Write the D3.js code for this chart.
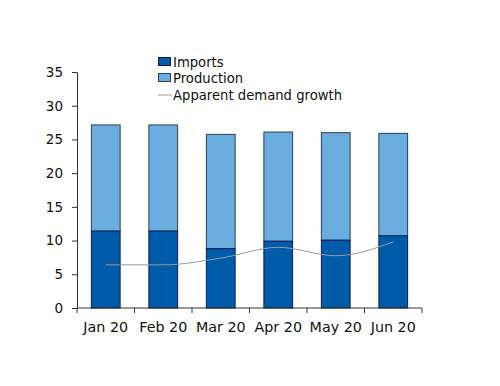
<!DOCTYPE html>
<html><head><meta charset="utf-8">
<script src="https://cdn.jsdelivr.net/npm/d3@7"></script>
<style>body{margin:0;background:#fff}svg{display:block}text{font-family:"DejaVu Sans",Verdana,sans-serif;fill:#111}</style>
</head><body><svg id="c" width="500" height="386"></svg>
<script>
const categories = ["Jan 20","Feb 20","Mar 20","Apr 20","May 20","Jun 20"];
const imports = [11.4, 11.4, 8.8, 9.9, 10.05, 10.7];
const production = [15.75, 15.75, 16.95, 16.2, 15.95, 15.2];
const demandGrowth = [6.4, 6.4, 7.4, 9.0, 7.75, 9.8];
const yTicks = [0,5,10,15,20,25,30,35];
const legendLabels = ["Imports","Production","Apparent demand growth"];

const svg = d3.select("#c");
const m = {l:77, r:78, t:72, b:78};
const W = 500, H = 386;
const x = d3.scaleBand().domain(categories).range([m.l, W - m.r]).paddingInner(0.5).paddingOuter(0.25);
const xb = d3.scaleBand().domain(categories).range([m.l, W - m.r]);
const y = d3.scaleLinear().domain([0,35]).range([H - m.b, m.t]);

const cImp = "#005bab", cProd = "#6aaee0", cLine = "#999";

// bars
const g = svg.append("g");
categories.forEach((c,i)=>{
  g.append("rect").attr("x", x(c)).attr("width", x.bandwidth())
    .attr("y", y(imports[i]+production[i])).attr("height", y(imports[i]) - y(imports[i]+production[i]))
    .attr("fill", cProd).attr("stroke", "#2b3d5c").attr("stroke-width", 1);
  g.append("rect").attr("x", x(c)).attr("width", x.bandwidth())
    .attr("y", y(imports[i])).attr("height", y(0) - y(imports[i]))
    .attr("fill", cImp).attr("stroke", "#0c1d4f").attr("stroke-width", 1);
});

// line
const line = d3.line().x((d,i)=>xb(categories[i]) + xb.bandwidth()/2).y(d=>y(d)).curve(d3.curveMonotoneX);
svg.append("path").datum(demandGrowth).attr("d", line).attr("fill","none").attr("stroke", cLine).attr("stroke-width", 1);

// axes
const yAxis = d3.axisLeft(y).tickValues(yTicks).tickSize(5).tickPadding(9);
const ya = svg.append("g").attr("transform", `translate(${m.l},0)`).call(yAxis);
ya.select(".domain").attr("stroke","#333");
ya.selectAll(".tick line").attr("stroke","#333");
ya.selectAll("text").attr("font-size", 13.5).style("font-family","DejaVu Sans");

const xAxis = d3.axisBottom(xb).tickSize(0).tickPadding(14);
const xa = svg.append("g").attr("transform", `translate(0,${y(0)})`).call(xAxis);
xa.select(".domain").attr("stroke","#333").attr("d", `M${m.l},0H${W-m.r}`);
xa.selectAll("text").attr("font-size", 14.3).style("font-family","DejaVu Sans");
// boundary ticks
const bounds = categories.map(c=>xb(c)).concat([xb(categories[categories.length-1]) + xb.bandwidth()]);
xa.selectAll(".bt").data(bounds).enter().append("line").attr("class","bt")
  .attr("x1",d=>d).attr("x2",d=>d).attr("y1",0).attr("y2",5).attr("stroke","#333");

// legend
const lg = svg.append("g").attr("transform","translate(158,0)");
const ly = [62, 78, 95];
[cImp, cProd].forEach((c,i)=>{
  lg.append("rect").attr("x",0.5).attr("y",ly[i]-4.5).attr("width",12).attr("height",8)
    .attr("fill",c).attr("stroke", i===0?"#0c1d4f":"#2b3d5c").attr("stroke-width",1);
});
lg.append("line").attr("x1",0).attr("x2",14).attr("y1",ly[2]).attr("y2",ly[2]).attr("stroke",cLine);
legendLabels.forEach((t,i)=>{
  lg.append("text").attr("x",15).attr("y",ly[i]).attr("dy","0.35em").attr("font-size",13.2).text(t);
});
</script></body></html>
